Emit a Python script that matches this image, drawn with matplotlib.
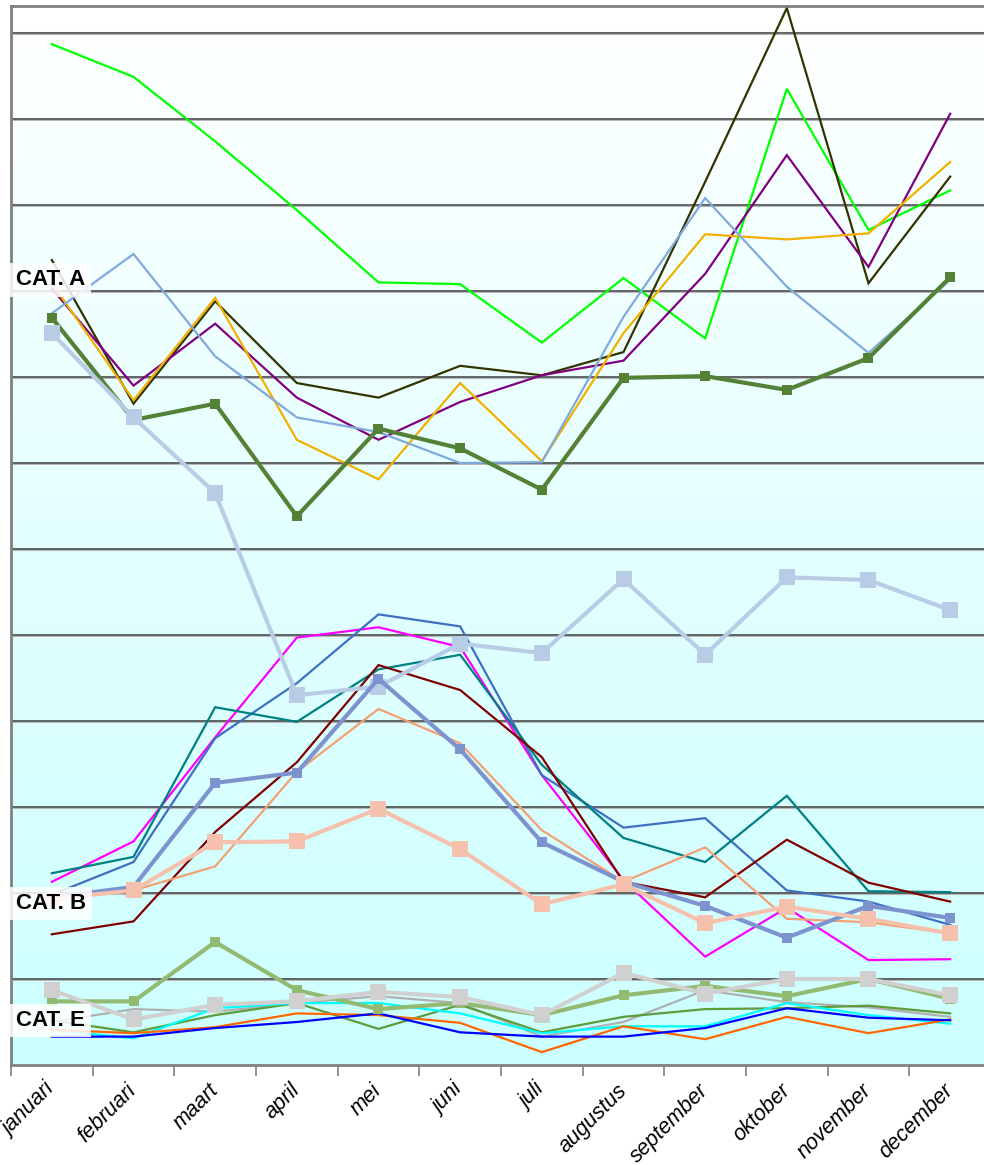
import numpy as np
import matplotlib
matplotlib.use("Agg")
import matplotlib.pyplot as plt
from matplotlib.colors import LinearSegmentedColormap

months = ["januari", "februari", "maart", "april", "mei", "juni", "juli",
          "augustus", "september", "oktober", "november", "december"]

# ---- CAT. A ----
a_green = [11.87, 11.49, 10.74, 9.94, 9.10, 9.08, 8.40, 9.15, 8.45, 11.35, 9.71, 10.17]
a_darkolive = [9.36, 7.69, 8.88, 7.93, 7.76, 8.13, 8.02, 8.29, 10.27, 12.29, 9.09, 10.33]
a_purple = [9.03, 7.90, 8.62, 7.76, 7.27, 7.71, 8.02, 8.19, 9.20, 10.58, 9.28, 11.06]
a_gold = [9.09, 7.73, 8.92, 7.27, 6.81, 7.93, 7.02, 8.51, 9.66, 9.60, 9.67, 10.50]
a_steelblue = [8.74, 9.43, 8.24, 7.53, 7.36, 7.00, 7.01, 8.70, 10.08, 9.05, 8.28, 9.13]
a_darkgreen = [8.69, 7.50, 7.69, 6.38, 7.40, 7.17, 6.69, 7.99, 8.01, 7.85, 8.22, 9.16]
a_lightblue = [8.51, 7.53, 6.65, 4.30, 4.40, 4.90, 4.79, 5.65, 4.77, 5.67, 5.64, 5.29]

# ---- CAT. B ----
b_magenta = [2.13, 2.60, 3.81, 4.97, 5.09, 4.86, 3.37, 2.15, 1.26, 1.83, 1.22, 1.23]
b_blue = [1.98, 2.36, 3.80, 4.44, 5.24, 5.10, 3.37, 2.76, 2.87, 2.03, 1.90, 1.63]
b_teal = [2.23, 2.42, 4.16, 3.99, 4.60, 4.77, 3.49, 2.64, 2.36, 3.13, 2.02, 2.01]
b_maroon = [1.52, 1.67, 2.71, 3.52, 4.65, 4.36, 3.58, 2.13, 1.95, 2.62, 2.12, 1.90]
b_salmon = [1.98, 2.03, 2.31, 3.41, 4.14, 3.74, 2.73, 2.13, 2.53, 1.70, 1.66, 1.53]
b_periwinkle = [1.95, 2.07, 3.28, 3.40, 4.49, 3.67, 2.59, 2.13, 1.85, 1.48, 1.85, 1.71]
b_palesalmon = [1.93, 2.03, 2.59, 2.60, 2.98, 2.51, 1.87, 2.10, 1.65, 1.84, 1.70, 1.53]

# ---- CAT. E ----
e_graythin = [0.50, 0.65, 0.62, 0.72, 0.80, 0.72, 0.33, 0.50, 0.87, 0.73, 0.67, 0.56]
e_green = [0.52, 0.38, 0.58, 0.72, 0.42, 0.70, 0.38, 0.56, 0.65, 0.66, 0.69, 0.60]
e_cyan = [0.41, 0.31, 0.66, 0.72, 0.72, 0.60, 0.37, 0.45, 0.45, 0.72, 0.58, 0.48]
e_orange = [0.41, 0.37, 0.44, 0.60, 0.58, 0.49, 0.15, 0.45, 0.30, 0.56, 0.37, 0.53]
e_blue = [0.33, 0.33, 0.43, 0.50, 0.60, 0.38, 0.33, 0.33, 0.43, 0.66, 0.55, 0.52]
e_lightgreen = [0.74, 0.74, 1.43, 0.87, 0.65, 0.72, 0.58, 0.81, 0.92, 0.80, 1.00, 0.77]
e_lightgray = [0.87, 0.53, 0.70, 0.74, 0.85, 0.79, 0.58, 1.07, 0.83, 1.00, 1.00, 0.81]

cat_labels = ["CAT. A", "CAT. B", "CAT. E"]
cat_label_y = [9.13, 1.88, 0.52]

W, H = 984, 1165
fig = plt.figure(figsize=(W / 100, H / 100), dpi=100)
ax = fig.add_axes([11 / W, 100 / H, 980 / W, 1059 / H])
ymax = 1059 / 86
ax.set_xlim(-0.5, 11.5)
ax.set_ylim(0, ymax)

# gradient background
cmap = LinearSegmentedColormap.from_list("bg", ["#CCFFFF", "#E4FFFF", "#FFFFFF"])
grad = np.linspace(0, 1, 256).reshape(-1, 1)
ax.imshow(grad, extent=[-0.5, 11.5, 0, ymax], aspect="auto", cmap=cmap,
          origin="lower", zorder=0)

# gridlines
for g in range(1, 13):
    ax.axhline(g, color="#3a3a3a", lw=1.1, zorder=1)
    ax.axhline(g - 0.012, color="#b8b8b8", lw=0.8, zorder=0.9)

x = np.arange(len(months))
thin = 1.6
thick = 3.0

def line(vals, color, lw=thin, marker=None, ms=0, z=3):
    ax.plot(x, vals, color=color, lw=lw, marker=marker, ms=ms,
            markeredgewidth=0, solid_joinstyle="miter", zorder=z)

# CAT A
line(a_green, "#00FF00")
line(a_darkolive, "#333300")
line(a_purple, "#800080")
line(a_gold, "#F2B000")
line(a_steelblue, "#80AADC")
line(a_darkgreen, "#538135", lw=thick, marker="s", ms=7, z=4)
line(a_lightblue, "#B8CCE6", lw=thick, marker="s", ms=12, z=4)

# CAT B
line(b_magenta, "#FF00FF")
line(b_blue, "#3F6FC2")
line(b_teal, "#008080")
line(b_maroon, "#800000")
line(b_salmon, "#F3A072")
line(b_periwinkle, "#7D93D0", lw=thick, marker="s", ms=7, z=4)
line(b_palesalmon, "#F5C1AC", lw=thick, marker="s", ms=12, z=4)

# CAT E
line(e_graythin, "#B0B0B0")
line(e_green, "#5E9B3A")
line(e_cyan, "#00FFFF")
line(e_orange, "#FF6600")
line(e_blue, "#0000FF")
line(e_lightgreen, "#93BA72", lw=thick, marker="s", ms=7, z=4)
line(e_lightgray, "#D0D0D0", lw=thick, marker="s", ms=12, z=4)

# category labels
for lab, yv in zip(cat_labels, cat_label_y):
    ax.text(-0.44, yv, lab, fontsize=16, fontweight="bold", family="Liberation Sans",
            ha="left", va="center", zorder=6,
            bbox=dict(boxstyle="square,pad=0.28", fc="white", ec="none", alpha=0.85))

# axes styling
for s in ["left", "top", "bottom"]:
    ax.spines[s].set_color("#808080")
    ax.spines[s].set_linewidth(2)
ax.spines["right"].set_visible(False)
ax.set_yticks([])
ax.set_xticks(x)
ax.set_xticklabels(months, fontsize=15.5, family="Liberation Sans", style="italic")
ax.set_xticks(np.arange(-0.5, 12, 1), minor=True)
ax.tick_params(axis="x", which="major", length=0, pad=16)
ax.tick_params(axis="x", which="minor", length=8, width=1.2, color="#808080", direction="out")
for t in ax.get_xticklabels():
    t.set_rotation(45)
    t.set_ha("right")
    t.set_va("center")
    t.set_rotation_mode("anchor")

fig.savefig("out.png", dpi=100)
